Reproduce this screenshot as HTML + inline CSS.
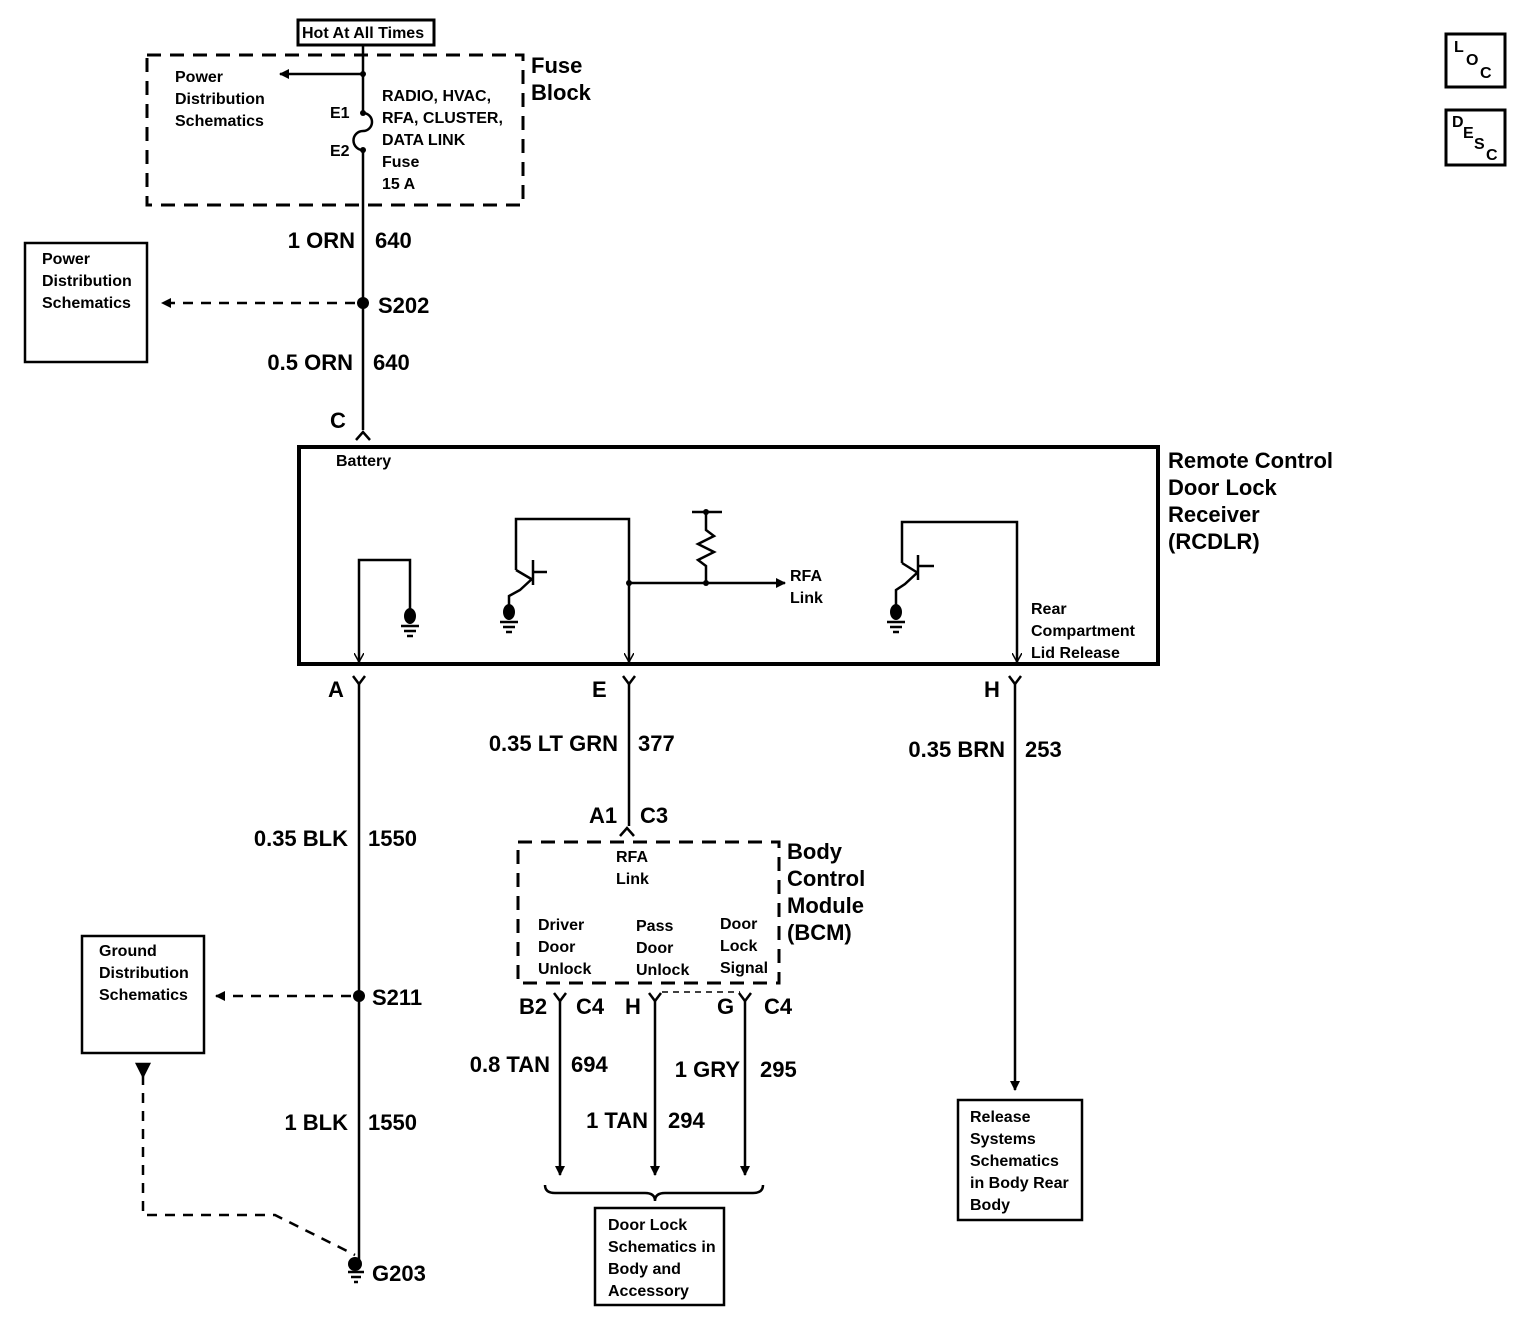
<!DOCTYPE html><html><head><style>body{margin:0;background:#fff}svg{display:block}text{font-family:"Liberation Sans",sans-serif;font-weight:bold;fill:#000}.s{font-size:16px}.m{font-size:22px}</style></head><body>
<svg width="1526" height="1344" viewBox="0 0 1526 1344" xmlns="http://www.w3.org/2000/svg">
<defs><marker id="ar" markerWidth="10" markerHeight="10" refX="9" refY="5" orient="auto" markerUnits="userSpaceOnUse"><path d="M0,0 L10,5 L0,10 z" fill="#000"/></marker>
<marker id="ao" markerWidth="10" markerHeight="10" refX="9" refY="5" orient="auto" markerUnits="userSpaceOnUse"><path d="M0,0 L9,5 L0,10" fill="none" stroke="#000" stroke-width="1.5"/></marker></defs>
<g stroke="#000" fill="none" stroke-width="2.5">
<rect x="298" y="20" width="136" height="25" stroke-width="3"/>
<rect x="147" y="55" width="376" height="150" stroke-dasharray="14,9" stroke-width="3"/>
<path d="M363,45 V113 M363,150 V430"/>
<path d="M363,113 a6,6 0 0 1 0,18 a6,6 0 0 0 0,19"/>
<path d="M363,74 H280" marker-end="url(#ar)"/>
<rect x="25" y="243" width="122" height="119"/>
<path d="M355,303 H162" stroke-dasharray="10,8" marker-end="url(#ar)"/>
<path d="M356,440 L363,432 L370,440"/>
<rect x="299" y="447" width="859" height="217" stroke-width="4"/>
<path d="M410,610 V560 H359 V662" marker-end="url(#ao)"/>
<path d="M516,570 V519 H629 V662" marker-end="url(#ao)"/>
<path d="M516,570 L533,580 M533,560 V585 M533,572 H547 M533,578 L520,590 L509,596 V610"/>
<path d="M629,583 H785" marker-end="url(#ar)"/>
<path d="M692,512 H722 M706,512 V530 l8,6 l-16,8 l16,8 l-16,8 l8,6 V583"/>
<path d="M902,563 V522 H1017 V662" marker-end="url(#ao)"/>
<path d="M902,563 L918,573 M918,555 V580 M918,566 H934 M918,572 L905,584 L896,590 V610"/>
<path d="M359,684 V1262"/>
<path d="M629,684 V826"/>
<path d="M1015,684 V1090" marker-end="url(#ar)"/>
<path d="M353,676 L359,684 L365,676 M623,676 L629,684 L635,676 M1009,676 L1015,684 L1021,676"/>
<path d="M620,836 L627,828 L634,836"/>
<rect x="518" y="842" width="261" height="141" stroke-dasharray="14,9" stroke-width="3"/>
<path d="M351,996 H216" stroke-dasharray="10,8" marker-end="url(#ar)"/>
<rect x="82" y="936" width="122" height="117"/>
<path d="M143,1075 V1215 H275 L355,1255" stroke-dasharray="10,8"/>
<path d="M137,1064 L149,1064 L143,1076z" fill="#000"/>
<path d="M560,1001 V1175" marker-end="url(#ar)"/>
<path d="M655,1001 V1175" marker-end="url(#ar)"/>
<path d="M745,1001 V1175" marker-end="url(#ar)"/>
<path d="M554,993 L560,1001 L566,993 M649,993 L655,1001 L661,993 M739,993 L745,1001 L751,993"/>
<path d="M662,992 H740" stroke-dasharray="6,5" stroke-width="1.5"/>
<path d="M545,1185 q0,8 10,8 H645 q10,0 10,8 q0,-8 10,-8 H753 q10,0 10,-8"/>
<rect x="595" y="1208" width="129" height="97"/>
<rect x="958" y="1100" width="124" height="120"/>
<rect x="1446" y="34" width="59" height="53" stroke-width="3"/>
<rect x="1446" y="110" width="59" height="55" stroke-width="3"/>
<path d="M348,1272 H364 M351,1277 H361 M354,1282 H358 M401,626 H419 M404,631 H416 M407,636 H413 M500,622 H518 M503,627 H515 M506,632 H512 M887,622 H905 M890,627 H902 M893,632 H899"/>
</g>
<g fill="#000"><circle cx="363" cy="303" r="6"/><circle cx="359" cy="996" r="6"/><circle cx="355" cy="1264" r="7"/><circle cx="629" cy="583" r="3"/><circle cx="706" cy="583" r="3"/><circle cx="706" cy="512" r="3"/><circle cx="363" cy="74" r="3"/><circle cx="363" cy="113" r="3"/><circle cx="363" cy="150" r="3"/>
<ellipse cx="410" cy="616" rx="6" ry="8"/><ellipse cx="509" cy="612" rx="6" ry="8"/><ellipse cx="896" cy="612" rx="6" ry="8"/></g>
<text class="s" x="302" y="38">Hot At All Times</text>
<text class="s" x="175" y="82">Power</text><text class="s" x="175" y="104">Distribution</text><text class="s" x="175" y="126">Schematics</text>
<text class="s" x="330" y="118">E1</text><text class="s" x="330" y="156">E2</text>
<text class="s" x="382" y="101">RADIO, HVAC,</text><text class="s" x="382" y="123">RFA, CLUSTER,</text><text class="s" x="382" y="145">DATA LINK</text><text class="s" x="382" y="167">Fuse</text><text class="s" x="382" y="189">15 A</text>
<text class="m" x="531" y="73">Fuse</text><text class="m" x="531" y="100">Block</text>
<text class="m" x="355" y="248" text-anchor="end">1 ORN</text><text class="m" x="375" y="248">640</text>
<text class="m" x="378" y="313">S202</text>
<text class="s" x="42" y="264">Power</text><text class="s" x="42" y="286">Distribution</text><text class="s" x="42" y="308">Schematics</text>
<text class="m" x="353" y="370" text-anchor="end">0.5 ORN</text><text class="m" x="373" y="370">640</text>
<text class="m" x="330" y="428">C</text>
<text class="s" x="336" y="466">Battery</text>
<text class="m" x="1168" y="468">Remote Control</text><text class="m" x="1168" y="495">Door Lock</text><text class="m" x="1168" y="522">Receiver</text><text class="m" x="1168" y="549">(RCDLR)</text>
<text class="s" x="790" y="581">RFA</text><text class="s" x="790" y="603">Link</text>
<text class="s" x="1031" y="614">Rear</text><text class="s" x="1031" y="636">Compartment</text><text class="s" x="1031" y="658">Lid Release</text>
<text class="m" x="328" y="697">A</text><text class="m" x="592" y="697">E</text><text class="m" x="984" y="697">H</text>
<text class="m" x="618" y="751" text-anchor="end">0.35 LT GRN</text><text class="m" x="638" y="751">377</text>
<text class="m" x="1005" y="757" text-anchor="end">0.35 BRN</text><text class="m" x="1025" y="757">253</text>
<text class="m" x="589" y="823">A1</text><text class="m" x="640" y="823">C3</text>
<text class="m" x="348" y="846" text-anchor="end">0.35 BLK</text><text class="m" x="368" y="846">1550</text>
<text class="m" x="787" y="859">Body</text><text class="m" x="787" y="886">Control</text><text class="m" x="787" y="913">Module</text><text class="m" x="787" y="940">(BCM)</text>
<text class="s" x="616" y="862">RFA</text><text class="s" x="616" y="884">Link</text>
<text class="s" x="538" y="930">Driver</text><text class="s" x="538" y="952">Door</text><text class="s" x="538" y="974">Unlock</text>
<text class="s" x="636" y="931">Pass</text><text class="s" x="636" y="953">Door</text><text class="s" x="636" y="975">Unlock</text>
<text class="s" x="720" y="929">Door</text><text class="s" x="720" y="951">Lock</text><text class="s" x="720" y="973">Signal</text>
<text class="s" x="99" y="956">Ground</text><text class="s" x="99" y="978">Distribution</text><text class="s" x="99" y="1000">Schematics</text>
<text class="m" x="372" y="1005">S211</text>
<text class="m" x="519" y="1014">B2</text><text class="m" x="576" y="1014">C4</text><text class="m" x="625" y="1014">H</text><text class="m" x="717" y="1014">G</text><text class="m" x="764" y="1014">C4</text>
<text class="m" x="550" y="1072" text-anchor="end">0.8 TAN</text><text class="m" x="571" y="1072">694</text>
<text class="m" x="740" y="1077" text-anchor="end">1 GRY</text><text class="m" x="760" y="1077">295</text>
<text class="m" x="648" y="1128" text-anchor="end">1 TAN</text><text class="m" x="668" y="1128">294</text>
<text class="m" x="348" y="1130" text-anchor="end">1 BLK</text><text class="m" x="368" y="1130">1550</text>
<text class="m" x="372" y="1281">G203</text>
<text class="s" x="608" y="1230">Door Lock</text><text class="s" x="608" y="1252">Schematics in</text><text class="s" x="608" y="1274">Body and</text><text class="s" x="608" y="1296">Accessory</text>
<text class="s" x="970" y="1122">Release</text><text class="s" x="970" y="1144">Systems</text><text class="s" x="970" y="1166">Schematics</text><text class="s" x="970" y="1188">in Body Rear</text><text class="s" x="970" y="1210">Body</text>
<text class="s" x="1454" y="52">L</text><text class="s" x="1466" y="65">O</text><text class="s" x="1480" y="78">C</text>
<text class="s" x="1452" y="127">D</text><text class="s" x="1463" y="138">E</text><text class="s" x="1474" y="149">S</text><text class="s" x="1486" y="160">C</text>
</svg></body></html>
